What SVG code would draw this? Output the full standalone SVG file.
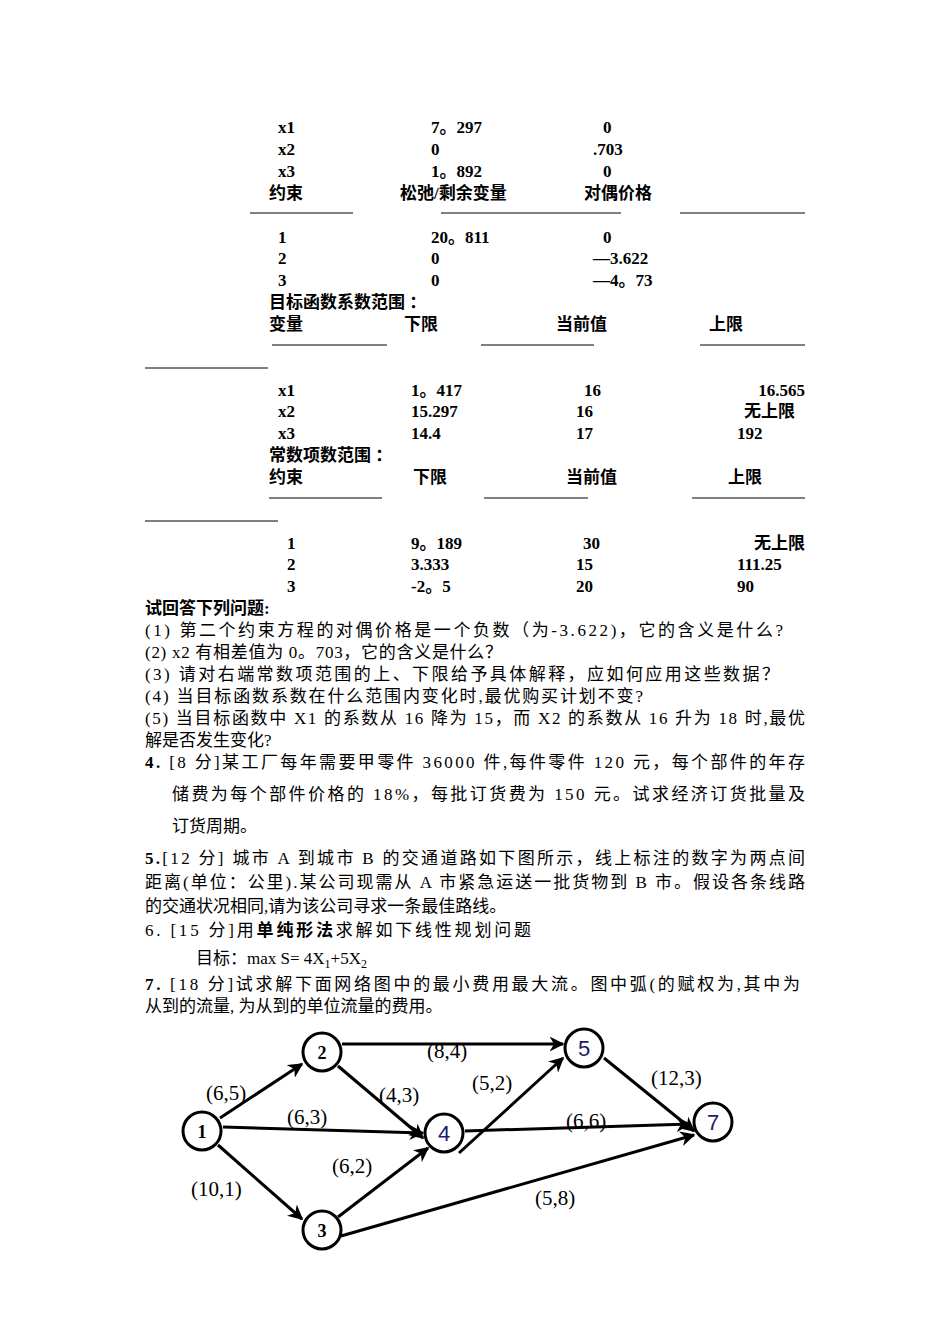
<svg xmlns="http://www.w3.org/2000/svg" width="950" height="1344" viewBox="0 0 950 1344">
<style>
.t{font-family:"Liberation Serif","Noto Sans CJK SC",serif;font-size:17px;fill:#000}
.b{font-family:"Liberation Serif","Noto Sans CJK SC",sans-serif;font-size:17px;font-weight:bold;fill:#000}
.r{text-anchor:end}
.d{stroke:#000;stroke-width:1}
.n{fill:#fff;stroke:#000;stroke-width:3}
.e{stroke:#000;stroke-width:3;fill:none;marker-end:url(#a)}
.lb{font-family:"Liberation Serif",serif;font-size:21px;fill:#000}
.nb{font-family:"Liberation Serif",serif;font-size:18px;font-weight:bold;text-anchor:middle;fill:#000}
.nn{font-family:"Liberation Sans",sans-serif;font-size:22px;text-anchor:middle;fill:#1a1a6e}
</style>
<defs><marker id="a" viewBox="0 0 10 10" refX="9" refY="5" markerWidth="5" markerHeight="5" orient="auto"><path d="M0,0 L10,5 L0,10 L3,5 z" fill="#000"/></marker></defs>
<g id="table">
<text class="b" x="278" y="133">x1</text><text class="b" x="431" y="133">7。297</text><text class="b" x="603" y="133">0</text>
<text class="b" x="278" y="155">x2</text><text class="b" x="431" y="155">0</text><text class="b" x="593" y="155">.703</text>
<text class="b" x="278" y="177">x3</text><text class="b" x="431" y="177">1。892</text><text class="b" x="603" y="177">0</text>
<text class="b" x="269" y="199">约束</text><text class="b" x="400" y="199">松弛/剩余变量</text><text class="b" x="584" y="199">对偶价格</text>
<line class="d" x1="250" y1="213" x2="353" y2="213"/><line class="d" x1="441" y1="213" x2="621" y2="213"/><line class="d" x1="680" y1="213" x2="805" y2="213"/>
<text class="b" x="278" y="243">1</text><text class="b" x="431" y="243">20。811</text><text class="b" x="603" y="243">0</text>
<text class="b" x="278" y="264">2</text><text class="b" x="431" y="264">0</text><text class="b" x="593" y="264">—3.622</text>
<text class="b" x="278" y="286">3</text><text class="b" x="431" y="286">0</text><text class="b" x="593" y="286">—4。73</text>
<text class="b" x="269" y="308">目标函数系数范围 ：</text>
<text class="b" x="269" y="330">变量</text><text class="b" x="404" y="330">下限</text><text class="b" x="556" y="330">当前值</text><text class="b" x="709" y="330">上限</text>
<line class="d" x1="272" y1="345" x2="387" y2="345"/><line class="d" x1="481" y1="345" x2="594" y2="345"/><line class="d" x1="700" y1="345" x2="805" y2="345"/>
<line class="d" x1="145" y1="368" x2="268" y2="368"/>
<text class="b" x="278" y="396">x1</text><text class="b" x="411" y="396">1。417</text><text class="b" x="584" y="396">16</text><text class="b r" x="805" y="396">16.565</text>
<text class="b" x="278" y="417">x2</text><text class="b" x="411" y="417">15.297</text><text class="b" x="576" y="417">16</text><text class="b r" x="795" y="417">无上限</text>
<text class="b" x="278" y="439">x3</text><text class="b" x="411" y="439">14.4</text><text class="b" x="576" y="439">17</text><text class="b" x="737" y="439">192</text>
<text class="b" x="269" y="461">常数项数范围 ：</text>
<text class="b" x="269" y="483">约束</text><text class="b" x="413" y="483">下限</text><text class="b" x="566" y="483">当前值</text><text class="b" x="728" y="483">上限</text>
<line class="d" x1="269" y1="498" x2="382" y2="498"/><line class="d" x1="484" y1="498" x2="588" y2="498"/><line class="d" x1="692" y1="498" x2="805" y2="498"/>
<line class="d" x1="145" y1="521" x2="278" y2="521"/>
<text class="b" x="287" y="549">1</text><text class="b" x="411" y="549">9。189</text><text class="b" x="583" y="549">30</text><text class="b r" x="805" y="549">无上限</text>
<text class="b" x="287" y="570">2</text><text class="b" x="411" y="570">3.333</text><text class="b" x="576" y="570">15</text><text class="b" x="737" y="570">111.25</text>
<text class="b" x="287" y="592">3</text><text class="b" x="411" y="592">-2。5</text><text class="b" x="576" y="592">20</text><text class="b" x="737" y="592">90</text>
</g>
<g id="questions">
<text class="t" x="145" y="614" font-weight="bold">试回答下列问题:</text>
<text class="t" x="145" y="636" textLength="638" lengthAdjust="spacing">(1)  第二个约束方程的对偶价格是一个负数（为-3.622)，它的含义是什么?</text>
<text class="t" x="145" y="658" textLength="357" lengthAdjust="spacing">(2)  x2 有相差值为 0。703，它的含义是什么？</text>
<text class="t" x="145" y="680" textLength="634" lengthAdjust="spacing">(3)  请对右端常数项范围的上、下限给予具体解释，应如何应用这些数据？</text>
<text class="t" x="145" y="702" textLength="498" lengthAdjust="spacing">(4)  当目标函数系数在什么范围内变化时,最优购买计划不变?</text>
<text class="t" x="145" y="724" textLength="660" lengthAdjust="spacing">(5)  当目标函数中 X1 的系数从 16 降为 15，而 X2 的系数从 16 升为 18 时,最优</text>
<text class="t" x="145" y="746">解是否发生变化?</text>
<text class="t" x="145" y="768" textLength="660" lengthAdjust="spacing"><tspan font-weight="bold">4.</tspan>  [8 分]某工厂每年需要甲零件 36000 件,每件零件 120 元，每个部件的年存</text>
<text class="t" x="172" y="800" textLength="633" lengthAdjust="spacing">储费为每个部件价格的 18%，每批订货费为 150 元。试求经济订货批量及</text>
<text class="t" x="172" y="832">订货周期。</text>
<text class="t" x="145" y="864" textLength="660" lengthAdjust="spacing"><tspan font-weight="bold">5.</tspan>[12 分]  城市 A 到城市 B 的交通道路如下图所示，线上标注的数字为两点间</text>
<text class="t" x="145" y="888" textLength="660" lengthAdjust="spacing">距离(单位：公里).某公司现需从 A 市紧急运送一批货物到 B 市。假设各条线路</text>
<text class="t" x="145" y="912">的交通状况相同,请为该公司寻求一条最佳路线。</text>
<text class="t" x="145" y="936" textLength="386" lengthAdjust="spacing">6. [15 分]用<tspan font-weight="bold">单纯形法</tspan>求解如下线性规划问题</text>
<text class="t" x="196" y="964" font-size="21">目标：max  S= 4X<tspan font-size="12" dy="4">1</tspan><tspan dy="-4">+5X</tspan><tspan font-size="12" dy="4">2</tspan></text>
<text class="t" x="145" y="990" textLength="655" lengthAdjust="spacing"><tspan font-weight="bold">7.</tspan>  [18 分]试求解下面网络图中的最小费用最大流。图中弧(的赋权为,其中为</text>
<text class="t" x="145" y="1012">从到的流量, 为从到的单位流量的费用。</text>
</g>
<g id="connectors">
<line class="e" x1="220" y1="1118" x2="302" y2="1064"/>
<line class="e" x1="223" y1="1127" x2="423" y2="1133"/>
<line class="e" x1="218" y1="1145" x2="302" y2="1219"/>
<line class="e" x1="342" y1="1044" x2="563" y2="1044"/>
<line class="e" x1="338" y1="1066" x2="423" y2="1138"/>
<line class="e" x1="338" y1="1217" x2="428" y2="1148"/>
<line class="e" x1="459" y1="1153" x2="563" y2="1058"/>
<line class="e" x1="465" y1="1131" x2="690" y2="1124"/>
<line class="e" x1="604" y1="1058" x2="694" y2="1131"/>
<line class="e" x1="341" y1="1236" x2="694" y2="1135"/>
</g>
<g id="labels">
<text class="lb" x="206" y="1100">(6,5)</text>
<text class="lb" x="287" y="1124">(6,3)</text>
<text class="lb" x="191" y="1196">(10,1)</text>
<text class="lb" x="427" y="1058">(8,4)</text>
<text class="lb" x="379" y="1102">(4,3)</text>
<text class="lb" x="332" y="1173">(6,2)</text>
<text class="lb" x="472" y="1090">(5,2)</text>
<text class="lb" x="566" y="1128">(6,6)</text>
<text class="lb" x="651" y="1085">(12,3)</text>
<text class="lb" x="535" y="1205">(5,8)</text>
</g>
<g id="n1"><circle class="n" cx="202" cy="1131" r="19"/><text class="nb" x="202" y="1138">1</text></g>
<g id="n2"><circle class="n" cx="322" cy="1052" r="19"/><text class="nb" x="322" y="1059">2</text></g>
<g id="n3"><circle class="n" cx="322" cy="1230" r="19"/><text class="nb" x="322" y="1237">3</text></g>
<g id="n4"><circle class="n" cx="444" cy="1133" r="19"/><text class="nn" x="444" y="1141">4</text></g>
<g id="n5"><circle class="n" cx="584" cy="1048" r="19"/><text class="nn" x="584" y="1056">5</text></g>
<g id="n7"><circle class="n" cx="713" cy="1122" r="19"/><text class="nn" x="713" y="1130">7</text></g>
</svg>
